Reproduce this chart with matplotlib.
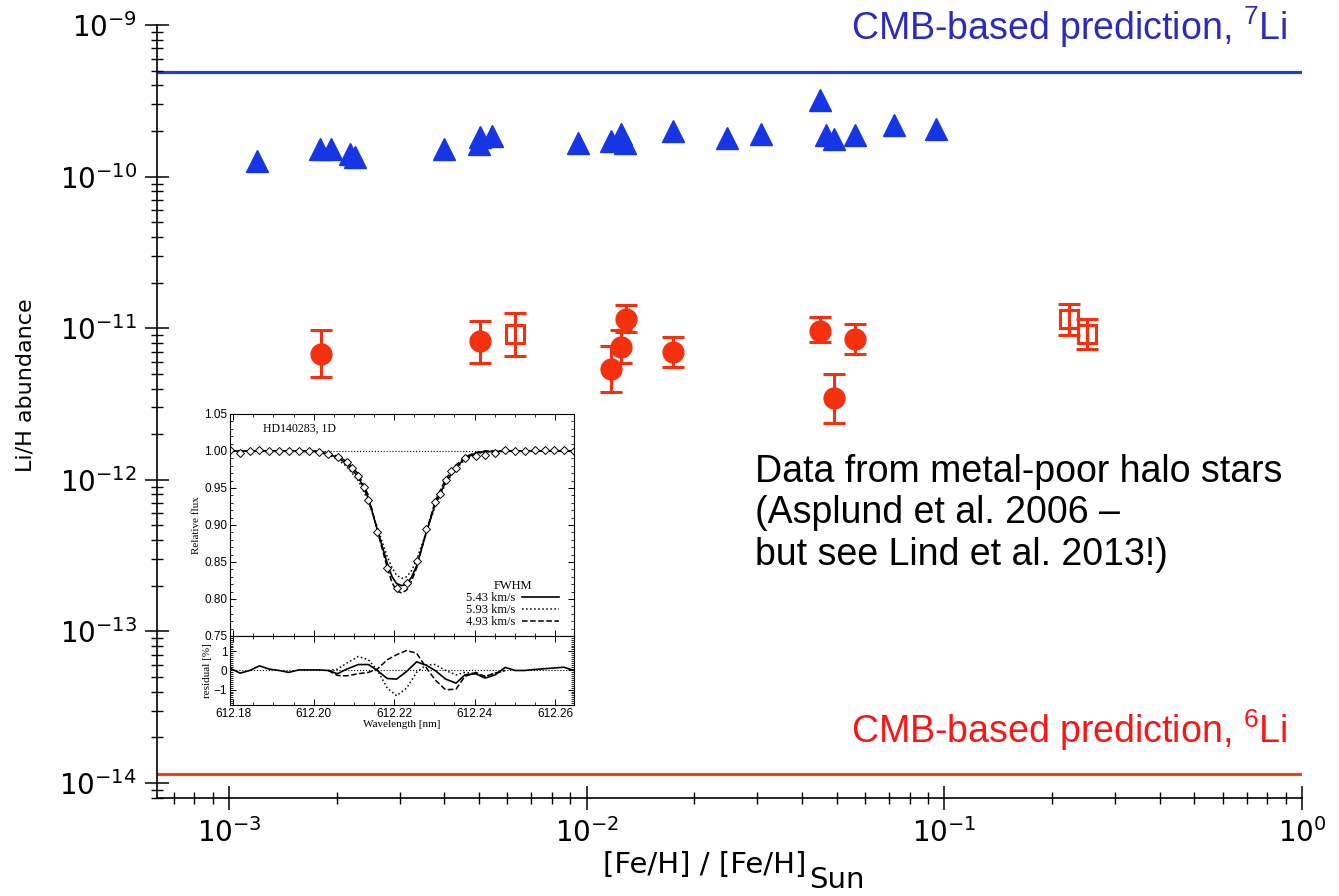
import matplotlib
matplotlib.use("Agg")
import matplotlib.pyplot as plt
from matplotlib.ticker import LogLocator, NullFormatter, MultipleLocator, FormatStrFormatter
import numpy as np

# 7Li detections (blue triangles)
li7_feh = [1.20e-3, 1.80e-3, 1.93e-3, 2.18e-3, 2.25e-3, 3.99e-3, 5.03e-3, 5.00e-3,
           5.43e-3, 9.44e-3, 1.17e-2, 1.25e-2, 1.28e-2, 1.74e-2, 2.46e-2, 3.08e-2,
           4.48e-2, 4.68e-2, 4.90e-2, 5.64e-2, 7.25e-2, 9.50e-2]
li7_abund = [1.26e-10, 1.51e-10, 1.51e-10, 1.40e-10, 1.35e-10, 1.51e-10, 1.83e-10, 1.65e-10,
             1.86e-10, 1.67e-10, 1.72e-10, 1.92e-10, 1.67e-10, 2.01e-10, 1.81e-10, 1.92e-10,
             3.21e-10, 1.87e-10, 1.78e-10, 1.87e-10, 2.20e-10, 2.07e-10]

# 6Li detections (filled circles) with error bar ends
li6_feh = [1.81e-3, 5.03e-3, 1.29e-2, 1.25e-2, 1.17e-2, 1.74e-2, 4.48e-2, 5.64e-2, 4.90e-2]
li6_abund = [6.75e-12, 8.2e-12, 1.15e-11, 7.5e-12, 5.37e-12, 6.95e-12, 9.55e-12, 8.5e-12, 3.46e-12]
li6_hi = [9.7e-12, 1.11e-11, 1.42e-11, 9.7e-12, 7.6e-12, 8.7e-12, 1.18e-11, 1.06e-11, 4.97e-12]
li6_lo = [4.76e-12, 5.89e-12, 9.4e-12, 5.9e-12, 3.79e-12, 5.53e-12, 8.1e-12, 6.75e-12, 2.37e-12]

# 6Li open squares
sq_feh = [6.29e-3, 0.223, 0.251]
sq_abund = [9.14e-12, 1.15e-11, 9.14e-12]
sq_hi = [1.26e-11, 1.44e-11, 1.15e-11]
sq_lo = [6.55e-12, 9.0e-12, 7.28e-12]

li7_cmb = 4.9e-10
li6_cmb = 1.15e-14

# inset: observed spectrum (diamonds)
spec_wl = [612.1792, 612.1817, 612.1841, 612.1865, 612.1890, 612.1914, 612.1939, 612.1963,
           612.1988, 612.2013, 612.2036, 612.2060, 612.2082, 612.2096, 612.2111, 612.2124,
           612.2136, 612.2158, 612.2183, 612.2207, 612.2232, 612.2257, 612.2280, 612.2302,
           612.2315, 612.2329, 612.2341, 612.2354, 612.2377, 612.2403, 612.2427, 612.2452,
           612.2476, 612.2501, 612.2525, 612.2550, 612.2574, 612.2598, 612.2623, 612.2648]
spec_flux = [1.0014, 0.9977, 1.0000, 1.0014, 1.0000, 1.0000, 1.0000, 1.0000,
             1.0000, 0.9986, 0.9963, 0.9917, 0.9849, 0.9771, 0.9665, 0.9509,
             0.9344, 0.8899, 0.8417, 0.8151, 0.8211, 0.8518, 0.8945, 0.9312,
             0.9413, 0.9610, 0.9734, 0.9771, 0.9908, 0.9931, 0.9940, 0.9977,
             1.0014, 1.0000, 1.0000, 1.0014, 1.0014, 1.0014, 1.0014, 1.0000]

# inset: model profiles for three FWHM values
model_wl = [612.1792, 612.1950, 612.2013, 612.2036, 612.2059, 612.2082, 612.2111, 612.2136,
            612.2158, 612.2183, 612.2195, 612.2206, 612.2219, 612.2231, 612.2243, 612.2256,
            612.2279, 612.2302, 612.2328, 612.2354, 612.2376, 612.2403, 612.2426, 612.2500,
            612.2648]
model_543 = [1.0, 1.0, 0.999, 0.996, 0.991, 0.983, 0.965, 0.936, 0.894, 0.848, 0.830, 0.821,
             0.818, 0.820, 0.829, 0.845, 0.888, 0.928, 0.958, 0.978, 0.990, 0.997, 0.999, 1.0, 1.0]
model_593 = [1.0, 1.0, 0.998, 0.995, 0.989, 0.979, 0.960, 0.932, 0.897, 0.857, 0.842, 0.832,
             0.828, 0.830, 0.838, 0.853, 0.889, 0.925, 0.956, 0.976, 0.988, 0.996, 0.999, 1.0, 1.0]
model_493 = [1.0, 1.0, 1.0, 0.997, 0.993, 0.986, 0.969, 0.940, 0.893, 0.842, 0.822, 0.811,
             0.808, 0.812, 0.824, 0.842, 0.889, 0.932, 0.962, 0.981, 0.992, 0.998, 1.0, 1.0, 1.0]
fwhm_labels = ["5.43 km/s", "5.93 km/s", "4.93 km/s"]

# inset: residuals [%]
resid_wl = [612.1792, 612.1817, 612.1841, 612.1865, 612.1890, 612.1914, 612.1938, 612.1963,
            612.1988, 612.2013, 612.2036, 612.2059, 612.2082, 612.2111, 612.2136, 612.2158,
            612.2183, 612.2206, 612.2231, 612.2256, 612.2279, 612.2302, 612.2328, 612.2354,
            612.2376, 612.2403, 612.2426, 612.2451, 612.2476, 612.2501, 612.2524, 612.2549,
            612.2573, 612.2598, 612.2622, 612.2647]
resid_543 = [0.12, -0.14, 0.0, 0.24, 0.07, 0.0, -0.10, 0.03, 0.03, 0.03, 0.0, -0.17, 0.07,
             0.31, 0.31, 0.0, -0.42, -0.45, -0.05, 0.45, 0.28, 0.0, -0.45, -0.66, -0.23,
             -0.17, -0.40, -0.23, 0.16, 0.0, 0.0, 0.05, 0.09, 0.13, 0.17, 0.0]
resid_core_wl = resid_wl[10:29]
resid_593 = [0.0, 0.07, 0.38, 0.73, 0.56, 0.03, -0.92, -1.32, -0.92, -0.10, 0.28, 0.31, 0.0,
             -0.23, -0.10, -0.17, -0.31, -0.14, 0.0]
resid_493 = [0.0, -0.26, -0.28, -0.17, -0.10, 0.07, 0.56, 0.82, 1.04, 0.90, 0.17, -0.49,
             -1.01, -0.97, -0.31, -0.10, -0.31, -0.14, 0.0]

blue = "#1636e6"
red = "#f5300f"

plt.rcParams["mathtext.rm"] = "Liberation Sans"

fig = plt.figure(figsize=(13.39, 8.96), dpi=100)
ax = fig.add_axes([0.1173, 0.1094, 0.8551, 0.8627])

ax.axhline(li7_cmb, color="#1f3fc8", lw=2.3, zorder=1)
ax.axhline(li6_cmb, color="#e04a20", lw=2.3, zorder=1)

ax.plot(li7_feh, li7_abund, "^", ms=16, color=blue, mec=blue, zorder=3)

li6_abund_a = np.array(li6_abund)
ax.errorbar(li6_feh, li6_abund,
            yerr=[li6_abund_a - np.array(li6_lo), np.array(li6_hi) - li6_abund_a],
            fmt="o", ms=15, color=red, mec=red, ecolor=red, elinewidth=2.2,
            capsize=8, capthick=2.2, zorder=3)
sq_abund_a = np.array(sq_abund)
ax.errorbar(sq_feh, sq_abund,
            yerr=[sq_abund_a - np.array(sq_lo), np.array(sq_hi) - sq_abund_a],
            fmt="s", ms=13, mfc="none", mec=red, mew=2.2, ecolor=red, elinewidth=2.2,
            capsize=8, capthick=2.2, zorder=3)

ax.set_xscale("log")
ax.set_yscale("log")
ax.set_xlim(6.29e-4, 1.0)
ax.set_ylim(7.96e-15, 1e-9)
ax.spines["top"].set_visible(False)
ax.spines["right"].set_visible(False)
for s in ["left", "bottom"]:
    ax.spines[s].set_linewidth(1.2)
ax.xaxis.set_minor_locator(LogLocator(base=10, subs=np.arange(2, 10), numticks=50))
ax.yaxis.set_minor_locator(LogLocator(base=10, subs=np.arange(2, 10), numticks=50))
ax.xaxis.set_minor_formatter(NullFormatter())
ax.yaxis.set_minor_formatter(NullFormatter())
ax.tick_params(which="major", direction="inout", length=17, width=1.1, labelsize=20, pad=6)
ax.tick_params(which="minor", direction="inout", length=8.5, width=1.0)
ax.tick_params(top=False, right=False, which="both")

fig.text(0.0187, 0.570, "Li/H abundance", rotation=90, ha="center", va="center", fontsize=16)
fig.text(0.602, 0.026, "[Fe/H] / [Fe/H]", ha="right", va="baseline", fontsize=21)
fig.text(0.604, 0.009, "Sun", ha="left", va="baseline", fontsize=21)

fig.text(0.9612, 0.9554, r"CMB-based prediction, $^{7}$Li", ha="right", va="baseline",
         fontsize=27, color="#2b2bbf", family="Liberation Sans", math_fontfamily="custom")
fig.text(0.9612, 0.1708, r"CMB-based prediction, $^{6}$Li", ha="right", va="baseline",
         fontsize=27, color="#ff1414", family="Liberation Sans", math_fontfamily="custom")
fig.text(0.5638, 0.3694, "Data from metal-poor halo stars\n(Asplund et al. 2006 \u2013\nbut see Lind et al. 2013!)",
         ha="left", va="baseline", fontsize=27, family="Liberation Sans", linespacing=1.2)

# inset
serif = "Liberation Serif"
axi = fig.add_axes([0.1718, 0.2902, 0.2571, 0.2478])
axr = fig.add_axes([0.1718, 0.2132, 0.2571, 0.0770], sharex=axi)

axi.axhline(1.0, ls=":", lw=0.8, color="k")
axi.plot(model_wl, model_543, "k-", lw=1.2, label=fwhm_labels[0])
axi.plot(model_wl, model_593, "k:", lw=1.1, label=fwhm_labels[1])
axi.plot(model_wl, model_493, "k--", lw=1.1, label=fwhm_labels[2])
axi.plot(spec_wl, spec_flux, "D", ms=4.5, mfc="white", mec="k", mew=0.7)
axi.set_ylim(0.75, 1.05)
axi.set_xlim(612.1792, 612.2648)
axi.set_ylabel("Relative flux", family=serif, fontsize=8, labelpad=2)
axi.text(0.097, 0.934, "HD140283, 1D", transform=axi.transAxes, family=serif,
         fontsize=8.5, ha="left", va="center")
leg = axi.legend(loc="lower right", frameon=False, markerfirst=False, title="FWHM",
                 prop={"family": serif, "size": 9}, handlelength=3.0, handletextpad=0.5,
                 labelspacing=0.0, borderaxespad=0.4, bbox_to_anchor=(0.985, -0.01))
leg.get_title().set_family(serif)
leg.get_title().set_fontsize(9)

axr.axhline(0.0, ls=":", lw=0.8, color="k")
axr.plot(resid_wl, resid_543, "k-", lw=1.2)
axr.plot(resid_core_wl, resid_593, "k:", lw=1.1)
axr.plot(resid_core_wl, resid_493, "k--", lw=1.1)
axr.set_ylim(-1.8, 1.8)
axr.set_xlabel("Wavelength [nm]", family=serif, fontsize=8, labelpad=0)
axr.set_ylabel("residual [%]", family=serif, fontsize=8, labelpad=1)

for a in (axi, axr):
    a.set_facecolor("white")
    a.tick_params(which="both", direction="in", top=True, right=True, labelsize=8.5, pad=2)
    a.tick_params(which="major", length=4, width=0.7)
    a.tick_params(which="minor", length=2, width=0.6)
    a.xaxis.set_major_locator(MultipleLocator(0.02))
    a.xaxis.set_minor_locator(MultipleLocator(0.005))
    a.xaxis.set_major_formatter(FormatStrFormatter("%.2f"))
    for s in a.spines.values():
        s.set_linewidth(0.8)
axi.yaxis.set_major_locator(MultipleLocator(0.05))
axi.yaxis.set_minor_locator(MultipleLocator(0.01))
axi.yaxis.set_major_formatter(FormatStrFormatter("%.2f"))
axi.tick_params(labelbottom=False)
axr.yaxis.set_major_locator(MultipleLocator(1))
axr.yaxis.set_minor_locator(MultipleLocator(0.1))
for a in (axi, axr):
    for lab in a.get_xticklabels() + a.get_yticklabels():
        lab.set_family("Liberation Sans")

fig.savefig("out.png", dpi=100)
